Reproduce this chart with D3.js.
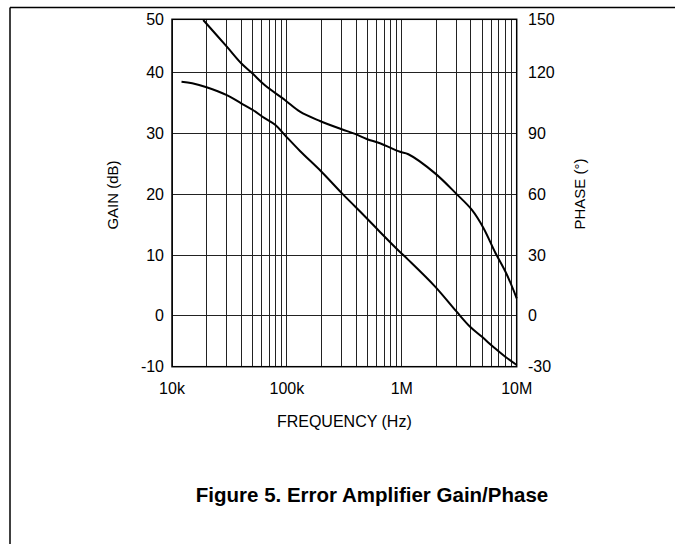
<!DOCTYPE html>
<html>
<head>
<meta charset="utf-8">
<script src="https://cdn.jsdelivr.net/npm/d3@7"></script>
<style>
  body { margin: 0; background: #fff; }
  text { font-family: "Liberation Sans", Arial, sans-serif; fill: #000; }
</style>
</head>
<body>
<div class="svg-container" style="width:675px;height:544px;"></div>
<script>
// gain curve (dB)
var gainFreq = [12.1e3, 15e3, 20e3, 30e3, 40e3, 51e3, 64e3, 79e3, 96e3, 130e3, 200e3, 300e3,
                392e3, 495e3, 646e3, 964e3, 1.14e6, 1.95e6, 3.0e6, 3.93e6, 4.96e6, 6.47e6, 7.9e6, 10e6];
var gainDb = [38.5, 38.25, 37.6, 36.3, 34.95, 33.8, 32.5, 31.4, 29.7, 27.1, 23.7, 20.2,
              18.0, 16.05, 13.8, 10.5, 9.2, 4.8, 0.66, -2.16, -4.1, -6.4, -8.0, -9.67];

// phase curve (degrees)
var phaseFreq = [18.7e3, 30e3, 40e3, 50e3, 64e3, 96e3, 130e3, 194e3, 300e3, 392e3, 495e3,
                 646e3, 964e3, 1.14e6, 1.95e6, 3.0e6, 4.06e6, 5.12e6, 6.47e6, 8.18e6, 10e6];
var phaseDeg = [149.6, 134.6, 125.3, 119.7, 113.9, 106.5, 100.7, 96.1, 92.0, 89.7, 87.2,
                85.1, 80.9, 79.7, 70.3, 60.1, 52.4, 43.5, 31.5, 20.5, 8.6];

var freqTicks = [1e4, 1e5, 1e6, 1e7];
var freqLabels = ["10k", "100k", "1M", "10M"];
var gainTicks = [-10, 0, 10, 20, 30, 40, 50];
var phaseTicks = [-30, 0, 30, 60, 90, 120, 150];

var width = 675, height = 544;
var plotLeft = 172, plotRight = 516.7, plotTop = 19.3, plotBottom = 366.7;

var svg = d3.select('.svg-container').append('svg')
  .attr('width', width)
  .attr('height', height);

// page frame from the datasheet
svg.append('line')
  .attr('x1', 10).attr('x2', width).attr('y1', 7.5).attr('y2', 7.5)
  .attr('stroke', '#000').attr('stroke-width', 1.5);
svg.append('line')
  .attr('x1', 10).attr('x2', 10).attr('y1', 7.5).attr('y2', height)
  .attr('stroke', '#000').attr('stroke-width', 1.5);

var x = d3.scaleLog().domain([1e4, 1e7]).range([plotLeft, plotRight]);

// the scanned grid is not quite even, so the scale has a stop per gridline
var y = d3.scaleLinear()
  .domain(gainTicks)
  .range([plotBottom, 315.7, 255, 194.3, 133.3, 72.7, plotTop]);
var yPhase = y.copy().domain(phaseTicks);

var g = svg.append('g');

// grid
g.selectAll('.vgrid')
  .data(x.ticks())
  .enter().append('line')
  .attr('class', 'vgrid')
  .attr('x1', function(d) { return x(d); })
  .attr('x2', function(d) { return x(d); })
  .attr('y1', plotTop).attr('y2', plotBottom)
  .attr('stroke', '#222').attr('stroke-width', 1)
  .attr('shape-rendering', 'crispEdges');

g.selectAll('.hgrid')
  .data(gainTicks)
  .enter().append('line')
  .attr('class', 'hgrid')
  .attr('x1', plotLeft).attr('x2', plotRight)
  .attr('y1', function(d) { return y(d); })
  .attr('y2', function(d) { return y(d); })
  .attr('stroke', '#222').attr('stroke-width', 1)
  .attr('shape-rendering', 'crispEdges');

g.append('rect')
  .attr('x', plotLeft).attr('y', plotTop)
  .attr('width', plotRight - plotLeft).attr('height', plotBottom - plotTop)
  .attr('fill', 'none').attr('stroke', '#000').attr('stroke-width', 1.5);

// curves
var gainLine = d3.line()
  .x(function(d, i) { return x(gainFreq[i]); })
  .y(function(d) { return y(d); })
  .curve(d3.curveCatmullRom);

var phaseLine = d3.line()
  .x(function(d, i) { return x(phaseFreq[i]); })
  .y(function(d) { return yPhase(d); })
  .curve(d3.curveCatmullRom);

g.append('path')
  .attr('d', gainLine(gainDb))
  .attr('fill', 'none').attr('stroke', '#000').attr('stroke-width', 2);

g.append('path')
  .attr('d', phaseLine(phaseDeg))
  .attr('fill', 'none').attr('stroke', '#000').attr('stroke-width', 2);

// tick labels
g.selectAll('.xlab')
  .data(freqTicks)
  .enter().append('text')
  .attr('x', function(d) { return x(d); })
  .attr('y', 394)
  .attr('text-anchor', 'middle')
  .style('font-size', '16px')
  .text(function(d, i) { return freqLabels[i]; });

g.selectAll('.ylab')
  .data(gainTicks)
  .enter().append('text')
  .attr('x', 164)
  .attr('y', function(d) { return y(d); })
  .attr('dy', '0.35em')
  .attr('text-anchor', 'end')
  .style('font-size', '16px')
  .text(function(d) { return d; });

g.selectAll('.plab')
  .data(phaseTicks)
  .enter().append('text')
  .attr('x', 528)
  .attr('y', function(d) { return yPhase(d); })
  .attr('dy', '0.35em')
  .attr('text-anchor', 'start')
  .style('font-size', '16px')
  .text(function(d) { return d; });

// axis titles
svg.append('text')
  .attr('x', (plotLeft + plotRight) / 2).attr('y', 427)
  .attr('text-anchor', 'middle')
  .style('font-size', '16px')
  .text('FREQUENCY (Hz)');

svg.append('text')
  .attr('transform', 'translate(118,195) rotate(-90)')
  .attr('text-anchor', 'middle')
  .style('font-size', '15px')
  .text('GAIN (dB)');

svg.append('text')
  .attr('transform', 'translate(585,194) rotate(-90)')
  .attr('text-anchor', 'middle')
  .style('font-size', '15px')
  .text('PHASE (°)');

svg.append('text')
  .attr('x', 372).attr('y', 502)
  .attr('text-anchor', 'middle')
  .style('font-size', '20.5px')
  .style('font-weight', 'bold')
  .text('Figure 5. Error Amplifier Gain/Phase');
</script>
</body>
</html>
